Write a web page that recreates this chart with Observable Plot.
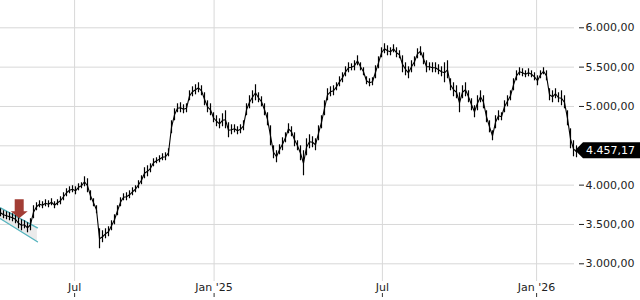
<!DOCTYPE html>
<html><head><meta charset="utf-8">
<script src="https://cdn.jsdelivr.net/npm/d3@7"></script>
<script src="https://cdn.jsdelivr.net/npm/@observablehq/plot@0.6"></script>
<style>html,body{margin:0;padding:0;background:#fff}#chart svg{display:block}</style>
</head><body><div id="chart"></div>
<script>
// Sample index (trading-period buckets), highs and lows of each bucket
const high = [
3700,3674,3661,3649,3636,3623,3585,3560,3547,3522,
3573,3738,3776,3801,3789,3814,3801,3827,3789,3814,
3852,3903,3954,3979,3992,3979,4017,4030,4106,4081,
3928,3827,3738,3445,3420,3445,3471,3547,3623,3738,
3839,3890,3903,3928,3966,3992,4056,4119,4221,4246,
4271,4335,4348,4373,4399,4411,4462,4818,4970,5034,
5047,5021,5034,5199,5250,5276,5301,5263,5174,5072,
5034,4920,4882,4843,4907,4945,4793,4767,4767,4742,
4767,4818,5034,5136,5199,5276,5174,5123,5034,4920,
4754,4500,4437,4513,4602,4665,4780,4742,4665,4564,
4500,4437,4589,4640,4615,4589,4754,4882,5072,5225,
5250,5263,5301,5377,5428,5504,5555,5542,5581,5644,
5555,5492,5377,5352,5365,5517,5631,5746,5797,5771,
5746,5784,5746,5708,5644,5555,5504,5581,5631,5733,
5759,5682,5581,5555,5555,5555,5530,5504,5555,5581,
5352,5301,5263,5174,5263,5301,5199,5098,5009,5136,
5199,5136,4945,4818,4691,4882,4945,4920,5072,5136,
5199,5352,5453,5492,5479,5453,5479,5453,5428,5390,
5453,5492,5453,5225,5199,5225,5174,5199,5136,4945,
4716,4564,4500];
const low = [
3598,3573,3560,3547,3534,3509,3445,3420,3445,3394,
3420,3573,3674,3712,3700,3725,3712,3738,3700,3738,
3750,3801,3852,3890,3903,3877,3928,3954,3979,3903,
3801,3725,3636,3191,3268,3318,3344,3420,3496,3611,
3725,3801,3801,3827,3865,3903,3954,4005,4081,4106,
4157,4233,4271,4284,4310,4310,4360,4653,4818,4920,
4920,4907,4920,5072,5123,5148,5174,5136,5009,4920,
4882,4793,4742,4716,4742,4716,4602,4640,4665,4640,
4653,4691,4882,4970,5034,5072,5047,4996,4882,4754,
4500,4335,4284,4386,4437,4538,4653,4615,4488,4437,
4310,4119,4373,4462,4475,4437,4564,4716,4882,5072,
5123,5136,5199,5250,5301,5377,5428,5453,5453,5517,
5453,5390,5276,5250,5263,5352,5479,5619,5670,5644,
5644,5682,5619,5606,5428,5390,5352,5428,5504,5606,
5644,5530,5428,5453,5428,5428,5403,5377,5301,5352,
5199,5123,5098,4920,5098,5123,5047,4945,4856,4945,
5047,4970,4793,4665,4564,4716,4818,4818,4920,4996,
5072,5199,5326,5390,5377,5365,5377,5365,5326,5263,
5352,5403,5326,5072,5047,5098,5047,5009,4970,4754,
4462,4360,4348];
const lastClose = 4457.17;

const xTickPos = [24.7, 71.2, 127.3, 178.7];
const xTickLabels = ["Jul", "Jan '25", "Jul", "Jan '26"];
const yGrid = [3000, 3500, 4000, 4500, 5000, 5500, 6000];
const yLabels = [3000, 3500, 4000, 5000, 5500, 6000]; // 4.500,00 sits under the price tag

// annotations: trend channel and marker arrow (index, value)
const channel = [{i: 0, hi: 3712, lo: 3573}, {i: 12.3, hi: 3458, lo: 3280}];
const arrowAt = {i: 6.4, top: 3814, tip: 3573};

const bars = high.map((h, i) => ({i, hi: h, lo: low[i], mid: (h + low[i]) / 2}));
const fmt = d3.formatLocale({decimal: ",", thousands: ".", grouping: [3], currency: ["", ""]}).format(",.2f");

function arrowMark(index, scales) {
  const x = scales.x(arrowAt.i), yT = scales.y(arrowAt.top), yP = scales.y(arrowAt.tip);
  const sw = 4.5, hw = 8.5, hh = 7;
  const g = d3.create("svg:g");
  g.append("path")
    .attr("d", `M${x - sw},${yT}H${x + sw}V${yP - hh}H${x + hw}L${x},${yP}L${x - hw},${yP - hh}H${x - sw}Z`)
    .attr("fill", "#a23d35");
  return g.node();
}
function priceTag(index, scales, values, dimensions) {
  const y = scales.y(lastClose) + 1.5;
  const x0 = dimensions.width - dimensions.marginRight - 3;
  const g = d3.create("svg:g");
  g.append("path")
    .attr("d", `M${x0},${y}L${x0 + 8},${y - 8}H${dimensions.width}V${y + 8}H${x0 + 8}Z`)
    .attr("fill", "#000");
  g.append("text").attr("x", x0 + 11).attr("y", y).attr("dy", "0.36em")
    .attr("text-anchor", "start")
    .attr("fill", "#fff").attr("font-size", 11).attr("font-family", "DejaVu Sans")
    .text(fmt(lastClose));
  return g.node();
}

const chart = Plot.plot({
  width: 640, height: 300,
  marginLeft: 0, marginRight: 62, marginTop: 0, marginBottom: 19,
  style: {fontFamily: "DejaVu Sans", fontSize: "11px", color: "#222", background: "#fff"},
  x: {domain: [0, 578 / 3], axis: null, label: null},
  y: {domain: [2775, 6347], axis: null, label: null},
  marks: [
    Plot.gridY(yGrid, {stroke: "#d8d8d8", strokeOpacity: 1, insetRight: 4}),
    Plot.gridX(xTickPos, {stroke: "#d8d8d8", strokeOpacity: 1}),
    Plot.axisY(yLabels, {anchor: "right", label: null, tickFormat: fmt, tickSize: 5, tickPadding: 2, fontSize: 11}),
    Plot.axisX(xTickPos, {anchor: "bottom", label: null, tickSize: 0, tickPadding: 2, fontSize: 11,
      tickFormat: d => xTickLabels[xTickPos.indexOf(d)]}),
    Plot.ruleX(xTickPos, {x: d => d, insetTop: 293, insetBottom: -16, stroke: "#333"}),
    Plot.areaY(channel, {x: "i", y1: "lo", y2: "hi", fill: "#e6e6e6", fillOpacity: 0.8}),
    Plot.line(channel, {x: "i", y: "hi", stroke: "#56b4be", strokeWidth: 1.4}),
    Plot.line(channel, {x: "i", y: "lo", stroke: "#56b4be", strokeWidth: 1.4}),
    Plot.ruleX(bars, {x: "i", y1: "lo", y2: "hi", stroke: "#000", strokeWidth: 1.2}),
    Plot.line(bars, {x: "i", y: "mid", stroke: "#000", strokeWidth: 1.1}),
    arrowMark,
    priceTag
  ]
});
document.getElementById("chart").appendChild(chart);
</script>
</body></html>
